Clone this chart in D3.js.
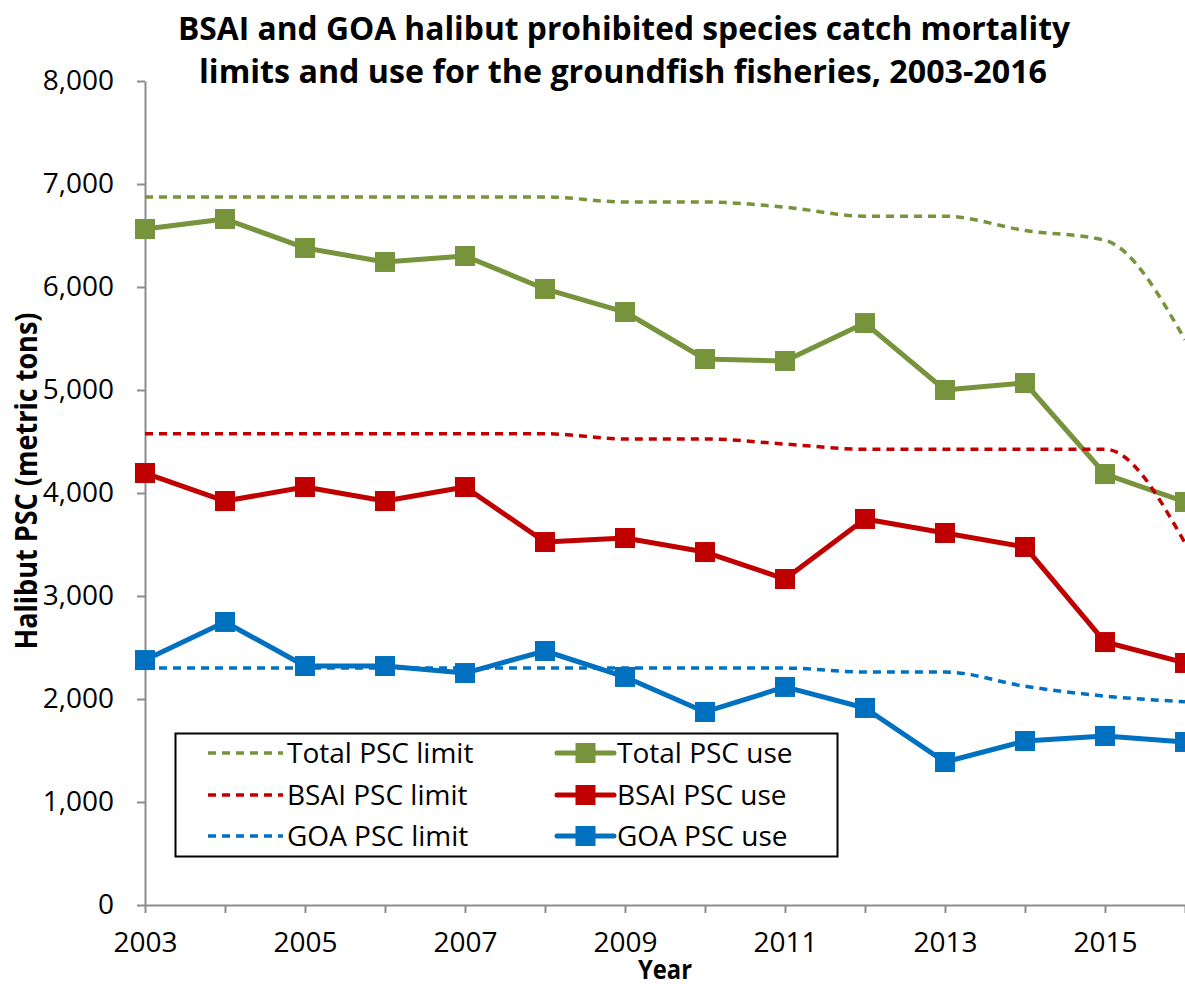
<!DOCTYPE html>
<html>
<head>
<meta charset="utf-8">
<script src="https://cdn.jsdelivr.net/npm/d3@7"></script>
<style>
  body { margin: 0; background: #fff; }
  svg { display: block; font-family: "Open Sans", sans-serif; }
</style>
</head>
<body>
<svg id="chart" width="1185" height="989"></svg>
<script>
// data
const years = [2003, 2004, 2005, 2006, 2007, 2008, 2009, 2010, 2011, 2012, 2013, 2014, 2015, 2016];
const totalLimit = [6875, 6875, 6875, 6875, 6875, 6875, 6825, 6825, 6775, 6687, 6687, 6549, 6453, 5488];
const totalUse   = [6563, 6660, 6379, 6243, 6301, 5981, 5757, 5301, 5282, 5650, 5000, 5068, 4184, 3913];
const bsaiLimit  = [4575, 4575, 4575, 4575, 4575, 4575, 4525, 4525, 4475, 4425, 4425, 4425, 4425, 3515];
const bsaiUse    = [4194, 3922, 4058, 3922, 4058, 3524, 3563, 3427, 3165, 3748, 3612, 3476, 2553, 2350];
const goaLimit   = [2300, 2300, 2300, 2300, 2300, 2300, 2300, 2300, 2300, 2262, 2262, 2124, 2028, 1973];
const goaUse     = [2378, 2748, 2320, 2320, 2252, 2466, 2214, 1874, 2117, 1913, 1388, 1592, 1641, 1583];
const yTicks = [0, 1000, 2000, 3000, 4000, 5000, 6000, 7000, 8000];
const xLabelYears = [2003, 2005, 2007, 2009, 2011, 2013, 2015];

const green = "#77933C", red = "#C00000", blue = "#0070C0";

// series in excel order (legend is row-major, two columns)
const series = [
  { name: "Total PSC limit", values: totalLimit, color: green, dashed: true },
  { name: "Total PSC use",   values: totalUse,   color: green, dashed: false },
  { name: "BSAI PSC limit",  values: bsaiLimit,  color: red,   dashed: true },
  { name: "BSAI PSC use",    values: bsaiUse,    color: red,   dashed: false },
  { name: "GOA PSC limit",   values: goaLimit,   color: blue,  dashed: true },
  { name: "GOA PSC use",     values: goaUse,     color: blue,  dashed: false }
];

const svg = d3.select("#chart");

const x = d3.scaleLinear().domain([2003, 2016]).range([145, 1185]);
const y = d3.scaleLinear().domain([0, 8000]).range([905, 81]);

// title
const title = svg.append("g").attr("font-weight", "bold").attr("font-size", 32).attr("text-anchor", "middle");
title.append("text").attr("x", 624).attr("y", 40)
  .attr("textLength", 892).attr("lengthAdjust", "spacingAndGlyphs")
  .text("BSAI and GOA halibut prohibited species catch mortality");
title.append("text").attr("x", 623).attr("y", 83)
  .attr("textLength", 848).attr("lengthAdjust", "spacingAndGlyphs")
  .text("limits and use for the groundfish fisheries, 2003-2016");

// axes
const yAxis = d3.axisLeft(y)
  .tickValues(yTicks)
  .tickSize(8)
  .tickSizeOuter(0)
  .tickPadding(23)
  .tickFormat(d3.format(","));

const xAxis = d3.axisBottom(x)
  .tickValues(years)
  .tickSize(8)
  .tickSizeOuter(0)
  .tickPadding(19)
  .tickFormat(d => xLabelYears.includes(d) ? String(d) : "");

const gy = svg.append("g").attr("transform", "translate(145,0)").call(yAxis);
const gx = svg.append("g").attr("transform", "translate(0,905)").call(xAxis);

[gy, gx].forEach(g => {
  g.select(".domain").attr("stroke", "#8c8c8c").attr("stroke-width", 2);
  g.selectAll(".tick line").attr("stroke", "#8c8c8c").attr("stroke-width", 2);
  g.selectAll(".tick text")
    .attr("font-family", "'Open Sans', sans-serif")
    .attr("font-size", 28)
    .attr("fill", "#000");
});

// axis titles
svg.append("text")
  .attr("transform", "translate(37,481) rotate(-90)")
  .attr("text-anchor", "middle")
  .attr("font-weight", "bold")
  .attr("font-size", 30)
  .attr("textLength", 337).attr("lengthAdjust", "spacingAndGlyphs")
  .text("Halibut PSC (metric tons)");

svg.append("text")
  .attr("x", 665).attr("y", 979)
  .attr("text-anchor", "middle")
  .attr("font-weight", "bold")
  .attr("font-size", 26)
  .attr("textLength", 54).attr("lengthAdjust", "spacingAndGlyphs")
  .text("Year");

// lines
const smoothLine = d3.line()
  .x((d, i) => x(years[i]))
  .y(d => y(d))
  .curve(d3.curveMonotoneX);

const straightLine = d3.line()
  .x((d, i) => x(years[i]))
  .y(d => y(d));

const plot = svg.append("g");

series.forEach(s => {
  const g = plot.append("g");
  if (s.dashed) {
    g.append("path")
      .attr("d", smoothLine(s.values))
      .attr("fill", "none")
      .attr("stroke", s.color)
      .attr("stroke-width", 3.5)
      .attr("stroke-dasharray", "8,6");
  } else {
    g.append("path")
      .attr("d", straightLine(s.values))
      .attr("fill", "none")
      .attr("stroke", s.color)
      .attr("stroke-width", 5)
      .attr("stroke-linejoin", "round");
    g.selectAll("rect")
      .data(s.values)
      .enter()
      .append("rect")
      .attr("x", (d, i) => x(years[i]) - 10)
      .attr("y", d => y(d) - 10)
      .attr("width", 20)
      .attr("height", 20)
      .attr("fill", s.color);
  }
});

// legend
const legend = svg.append("g");
legend.append("rect")
  .attr("x", 175.5).attr("y", 733.5)
  .attr("width", 662).attr("height", 123)
  .attr("fill", "#fff")
  .attr("stroke", "#000")
  .attr("stroke-width", 2);

const rowY = [753, 795, 836];
const colX = [208, 557];

series.forEach((s, i) => {
  const col = i % 2, row = Math.floor(i / 2);
  const ly = rowY[row];
  const item = legend.append("g");
  if (s.dashed) {
    item.append("line")
      .attr("x1", colX[col]).attr("x2", colX[col] + 75)
      .attr("y1", ly).attr("y2", ly)
      .attr("stroke", s.color)
      .attr("stroke-width", 3.5)
      .attr("stroke-dasharray", "8,6");
  } else {
    item.append("line")
      .attr("x1", colX[col]).attr("x2", colX[col] + 57)
      .attr("y1", ly).attr("y2", ly)
      .attr("stroke", s.color)
      .attr("stroke-width", 5)
      .attr("stroke-linecap", "round");
    item.append("rect")
      .attr("x", colX[col] + 28.5 - 10).attr("y", ly - 10)
      .attr("width", 20).attr("height", 20)
      .attr("fill", s.color);
  }
  const tx = col === 0 ? 287 : 617;
  item.append("text")
    .attr("x", tx).attr("y", ly + 10)
    .attr("font-size", 28)
    .attr("fill", "#000")
    .text(s.name);
});
</script>
</body>
</html>
